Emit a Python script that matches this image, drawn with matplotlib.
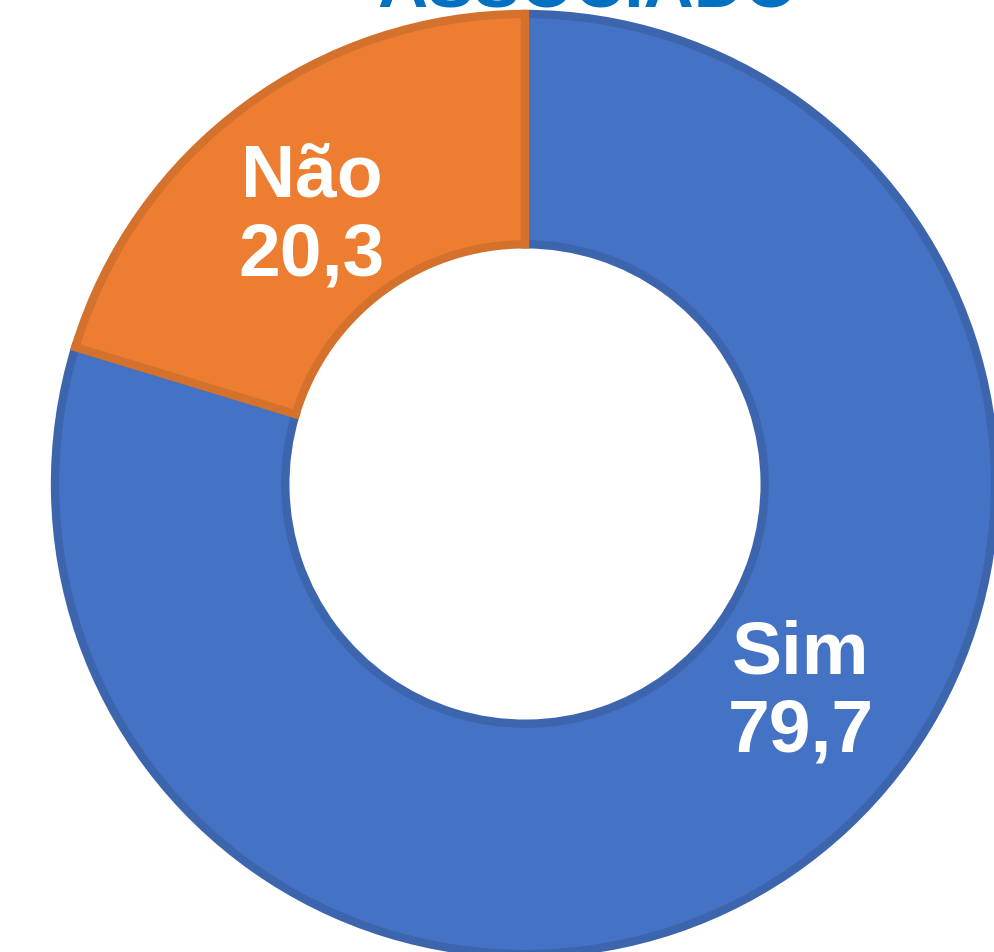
import matplotlib
matplotlib.use("Agg")
import matplotlib.pyplot as plt
import numpy as np

# dados do grafico
categorias = ["Sim", "Não"]
valores = [79.7, 20.3]
rotulos = ["79,7", "20,3"]
cores = ["#4472C4", "#ED7D31"]
bordas = ["#3D65AE", "#D4712C"]
titulo = "ASSOCIADO"

fig = plt.figure(figsize=(9.94, 9.53), dpi=100)
ax = fig.add_axes([55 / 994, -2 / 953, 940 / 994, 940 / 953])

wedges, _ = ax.pie(valores, colors=cores, startangle=90, counterclock=False,
                   radius=1.0, wedgeprops=dict(width=0.49, linewidth=6))
for w, b in zip(wedges, bordas):
    w.set_edgecolor(b)

ax.set_xlim(-1, 1)
ax.set_ylim(-1, 1)
ax.set_aspect("equal")
ax.axis("off")

# posicao dos rotulos (angulo em graus, raio)
pos_rotulos = [(-37.0, 0.735), (128.5, 0.73)]
for cat, rot, (ang, r) in zip(categorias, rotulos, pos_rotulos):
    a = np.deg2rad(ang)
    ax.text(r * np.cos(a), r * np.sin(a), cat + "\n" + rot, ha="center", va="center",
            color="white", fontsize=54, fontweight="bold", family="Liberation Sans",
            linespacing=1.17)

fig.text(588 / 994, 1 - 8 / 953, titulo, ha="center", va="baseline", color="#0070C0",
         fontsize=50, fontweight="bold", family="Liberation Sans")

plt.savefig("out.png", dpi=100)
